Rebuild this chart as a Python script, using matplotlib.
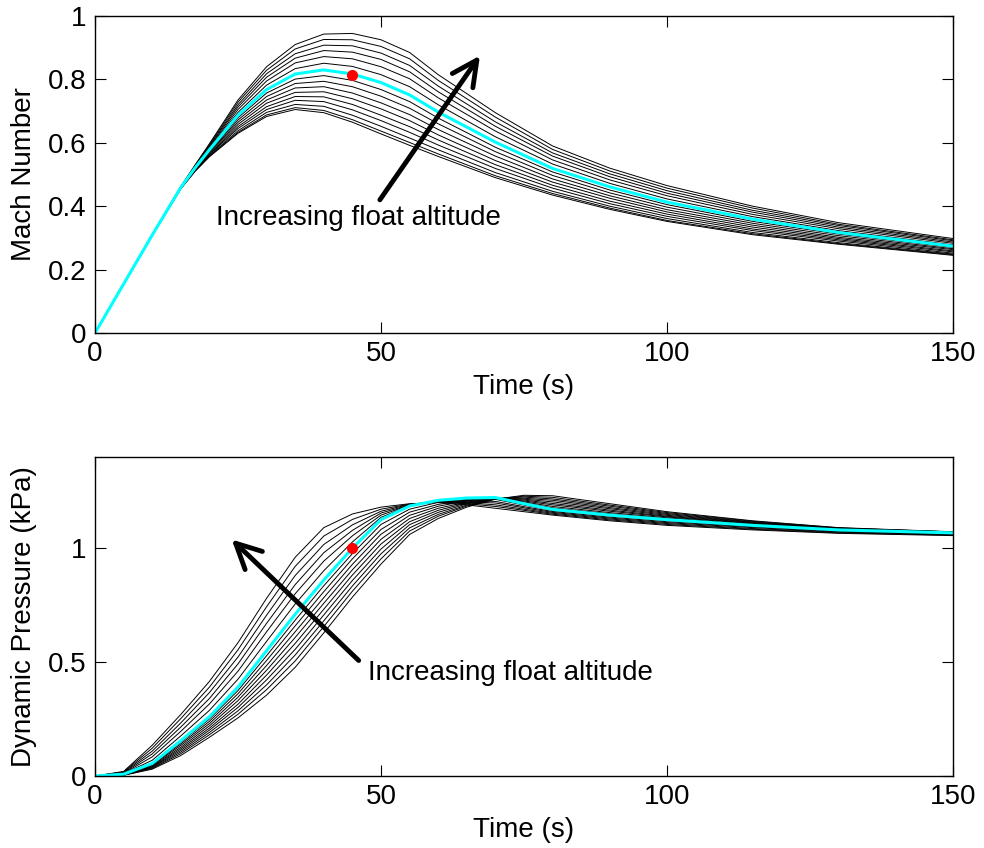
import matplotlib
matplotlib.use('Agg')
import matplotlib.pyplot as plt

plt.rcParams['font.family'] = ['Liberation Sans', 'DejaVu Sans']
plt.rcParams['font.size'] = 20

# Mach number runs (highest float altitude first)
t_mach = [0, 10, 15, 17.5, 20, 25, 30, 35, 40, 45, 50, 55, 60, 70, 80, 90, 100, 115, 130, 150]
mach_runs = [
    [0, .310, .462, .530, .597, .735, .840, .910, .943, .945, .925, .885, .815, .695, .590, .520, .465, .400, .348, .298],
    [0, .310, .461, .529, .594, .728, .829, .896, .926, .925, .904, .865, .797, .681, .579, .511, .457, .394, .343, .294],
    [0, .310, .461, .527, .591, .720, .818, .881, .908, .906, .883, .844, .779, .666, .568, .502, .449, .387, .339, .291],
    [0, .310, .460, .526, .588, .713, .807, .867, .891, .886, .863, .824, .761, .652, .558, .493, .441, .381, .334, .287],
    [0, .309, .460, .524, .585, .705, .795, .852, .872, .865, .840, .802, .742, .637, .546, .483, .433, .374, .329, .283],
    [0, .309, .459, .523, .582, .696, .782, .834, .851, .841, .815, .777, .720, .619, .533, .472, .423, .367, .323, .278],
    [0, .309, .458, .519, .575, .679, .757, .801, .812, .797, .768, .730, .678, .586, .508, .451, .405, .352, .312, .270],
    [0, .309, .458, .518, .572, .672, .746, .787, .794, .777, .747, .709, .660, .572, .497, .442, .397, .346, .307, .266],
    [0, .308, .457, .517, .570, .665, .735, .773, .777, .757, .726, .689, .642, .558, .486, .433, .389, .340, .302, .263],
    [0, .308, .457, .515, .567, .658, .725, .759, .761, .739, .707, .670, .625, .544, .476, .425, .382, .334, .298, .259],
    [0, .308, .456, .514, .564, .651, .714, .746, .745, .721, .687, .651, .609, .531, .466, .416, .375, .328, .294, .256],
    [0, .308, .456, .513, .562, .645, .705, .734, .730, .704, .670, .633, .593, .519, .457, .408, .368, .323, .290, .252],
    [0, .308, .456, .512, .559, .638, .696, .721, .715, .687, .652, .615, .578, .506, .447, .400, .361, .317, .285, .249],
    [0, .308, .455, .511, .557, .633, .688, .711, .702, .673, .637, .601, .565, .496, .440, .394, .355, .313, .282, .247],
    [0, .308, .455, .510, .556, .630, .683, .705, .695, .665, .628, .592, .557, .490, .435, .390, .352, .310, .280, .245],
]
mach_nominal = [0, .309, .459, .521, .578, .687, .768, .817, .830, .817, .790, .751, .697, .602, .519, .461, .413, .359, .317, .274]

# dynamic pressure runs (kPa), same run order
t_q = [0, 5, 10, 15, 20, 25, 30, 35, 40, 45, 50, 55, 60, 65, 70, 75, 80, 90, 100, 115, 130, 150]
q_runs = [
    [0, .020, .135, .270, .415, .585, .780, .960, 1.090, 1.150, 1.180, 1.195, 1.200, 1.190, 1.175, 1.160, 1.145, 1.120, 1.100, 1.080, 1.065, 1.055],
    [0, .018, .122, .252, .390, .554, .743, .920, 1.053, 1.126, 1.171, 1.193, 1.202, 1.195, 1.183, 1.166, 1.149, 1.124, 1.104, 1.083, 1.067, 1.057],
    [0, .016, .109, .233, .366, .522, .706, .880, 1.016, 1.102, 1.162, 1.192, 1.203, 1.200, 1.190, 1.171, 1.153, 1.128, 1.108, 1.086, 1.070, 1.059],
    [0, .014, .097, .215, .340, .492, .670, .840, .980, 1.078, 1.154, 1.190, 1.205, 1.204, 1.198, 1.177, 1.157, 1.132, 1.112, 1.090, 1.072, 1.061],
    [0, .012, .084, .196, .316, .460, .633, .800, .943, 1.054, 1.145, 1.189, 1.206, 1.209, 1.205, 1.182, 1.161, 1.136, 1.116, 1.093, 1.075, 1.063],
    [0, .010, .069, .176, .288, .425, .591, .755, .901, 1.027, 1.135, 1.187, 1.208, 1.215, 1.214, 1.189, 1.166, 1.141, 1.121, 1.096, 1.077, 1.065],
    [0, .007, .052, .148, .250, .375, .528, .684, .835, .976, 1.104, 1.171, 1.201, 1.216, 1.221, 1.199, 1.177, 1.151, 1.129, 1.102, 1.081, 1.068],
    [0, .007, .050, .141, .240, .361, .507, .659, .809, .953, 1.082, 1.158, 1.192, 1.211, 1.220, 1.203, 1.183, 1.156, 1.133, 1.104, 1.082, 1.068],
    [0, .006, .047, .134, .230, .346, .485, .633, .783, .929, 1.061, 1.144, 1.184, 1.207, 1.220, 1.207, 1.190, 1.162, 1.137, 1.107, 1.083, 1.069],
    [0, .006, .044, .126, .220, .331, .464, .608, .758, .905, 1.039, 1.130, 1.175, 1.202, 1.219, 1.211, 1.196, 1.167, 1.140, 1.109, 1.084, 1.069],
    [0, .005, .041, .119, .210, .315, .443, .582, .732, .882, 1.018, 1.116, 1.166, 1.198, 1.218, 1.215, 1.203, 1.173, 1.144, 1.111, 1.086, 1.070],
    [0, .005, .039, .112, .201, .301, .422, .556, .707, .858, .996, 1.103, 1.157, 1.194, 1.217, 1.219, 1.210, 1.178, 1.148, 1.113, 1.087, 1.070],
    [0, .004, .036, .105, .191, .286, .400, .531, .681, .834, .975, 1.089, 1.148, 1.189, 1.217, 1.224, 1.216, 1.184, 1.152, 1.115, 1.088, 1.071],
    [0, .004, .033, .098, .181, .271, .379, .505, .656, .811, .953, 1.075, 1.140, 1.185, 1.216, 1.228, 1.223, 1.189, 1.156, 1.118, 1.089, 1.071],
    [0, .003, .030, .090, .170, .255, .355, .477, .628, .785, .930, 1.060, 1.130, 1.180, 1.215, 1.232, 1.230, 1.195, 1.160, 1.120, 1.090, 1.072],
]
q_nominal = [0, .008, .055, .155, .260, .390, .550, .710, .860, 1.000, 1.125, 1.185, 1.210, 1.220, 1.222, 1.195, 1.170, 1.145, 1.125, 1.100, 1.080, 1.067]

design_t = 45
design_mach = 0.815
design_q = 1.0

note = 'Increasing float altitude'
cyan = '#00ffff'

fig = plt.figure(figsize=(9.84, 8.48), dpi=100)
ax1 = fig.add_axes([95/984, 1 - 333/848, 858/984, 317/848])
ax2 = fig.add_axes([95/984, 1 - 776/848, 858/984, 319/848])

for run in mach_runs:
    ax1.plot(t_mach, run, color='k', lw=0.7)
ax1.plot(t_mach, mach_nominal, color=cyan, lw=2.2)
ax1.plot(design_t, design_mach, 'o', color='r', ms=7)

for run in q_runs:
    ax2.plot(t_q, run, color='k', lw=0.7)
ax2.plot(t_q, q_nominal, color=cyan, lw=2.2)
ax2.plot(design_t, design_q, 'o', color='r', ms=7)

arrow = dict(arrowstyle='->,head_length=0.6,head_width=0.3', lw=3.5, color='k',
             mutation_scale=30, shrinkA=0, shrinkB=0)
ax1.annotate('', xy=(67.3, 0.875), xytext=(49.8, 0.42), arrowprops=arrow)
ax1.text(21.2, 0.362, note, ha='left', va='center')
ax2.annotate('', xy=(23.9, 1.038), xytext=(46.1, 0.507), arrowprops=arrow)
ax2.text(47.8, 0.454, note, ha='left', va='center')

ax1.set_xlim(0, 150)
ax1.set_ylim(0, 1)
ax1.set_yticks([0, 0.2, 0.4, 0.6, 0.8, 1])
ax1.set_yticklabels(['0', '0.2', '0.4', '0.6', '0.8', '1'])
ax1.set_ylabel('Mach Number')

ax2.set_xlim(0, 150)
ax2.set_ylim(0, 1.4)
ax2.set_yticks([0, 0.5, 1])
ax2.set_yticklabels(['0', '0.5', '1'])
ax2.set_ylabel('Dynamic Pressure (kPa)')

for ax in (ax1, ax2):
    ax.set_xticks([0, 50, 100, 150])
    ax.set_xticklabels(['0', '50', '100', '150'])
    ax.set_xlabel('Time (s)')
    ax.xaxis.set_label_coords(0.5, -0.17)
    ax.xaxis.label.set_va('center')
    ax.yaxis.set_label_coords(-0.083, 0.5)
    ax.yaxis.label.set_va('center')
    ax.tick_params(direction='in', length=8, width=0.8, top=True, right=True,
                   pad=6, labelsize=20)
    for s in ax.spines.values():
        s.set_linewidth(1)

fig.savefig('out.png', dpi=100)
